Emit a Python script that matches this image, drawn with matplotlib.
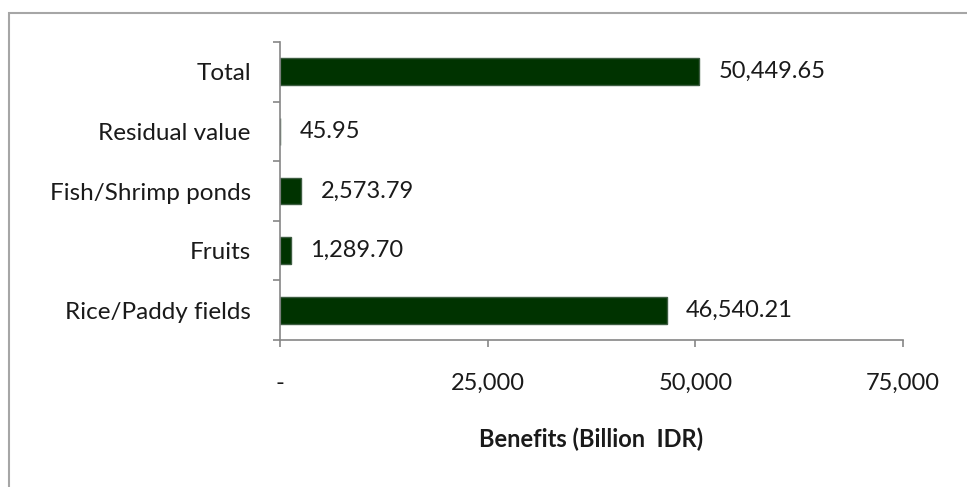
import matplotlib.pyplot as plt
from matplotlib.ticker import FuncFormatter, MultipleLocator, FixedLocator
from matplotlib.patches import Rectangle

plt.rcParams['font.family'] = ['Lato', 'DejaVu Sans']

categories = ["Rice/Paddy fields", "Fruits", "Fish/Shrimp ponds", "Residual value", "Total"]
benefits = [46540.21, 1289.70, 2573.79, 45.95, 50449.65]

axis_grey = '#868686'
text_col = '#1a1a1a'

fig = plt.figure(figsize=(9.67, 4.87), dpi=100)
ax = fig.add_axes([280 / 967, 1 - 340 / 487, 623 / 967, 298 / 487])

# outer chart frame (only top and left edges fall inside the image)
fig.patches.append(Rectangle((9 / 967, -0.2), 2.0, 1 - 13 / 487 + 0.2,
                             transform=fig.transFigure, fill=False,
                             edgecolor='#a6a6a6', linewidth=1.5))

pos = range(len(categories))
ax.barh(pos, benefits, height=0.45, color='#003300',
        edgecolor='#3d5c41', linewidth=1.0)

for y, v in zip(pos, benefits):
    ax.annotate(f"{v:,.2f}", xy=(v, y), xytext=(14, 0), textcoords='offset points',
                ha='left', va='center', fontsize=17, color=text_col)

ax.set_xlim(0, 75000)
ax.set_ylim(-0.5, len(categories) - 0.5)
ax.xaxis.set_major_locator(MultipleLocator(25000))
ax.xaxis.set_major_formatter(FuncFormatter(lambda v, _: '-' if v == 0 else f"{v:,.0f}"))

ax.set_yticks(list(pos))
ax.set_yticklabels(categories)
ax.yaxis.set_minor_locator(FixedLocator([i - 0.5 for i in range(len(categories) + 1)]))

for s in ['top', 'right']:
    ax.spines[s].set_visible(False)
for s in ['left', 'bottom']:
    ax.spines[s].set_color(axis_grey)
    ax.spines[s].set_linewidth(1.2)

ax.tick_params(axis='y', which='major', length=0, pad=21, labelsize=17.5, labelcolor=text_col)
ax.tick_params(axis='y', which='minor', length=5, width=1.2, color=axis_grey)
ax.tick_params(axis='x', which='major', length=5, width=1.2, color=axis_grey,
               pad=19, labelsize=17, labelcolor=text_col)

ax.set_xlabel('Benefits (Billion  IDR)', fontsize=17, fontweight='bold',
              color=text_col, labelpad=24)

fig.savefig('out.png', dpi=100)
